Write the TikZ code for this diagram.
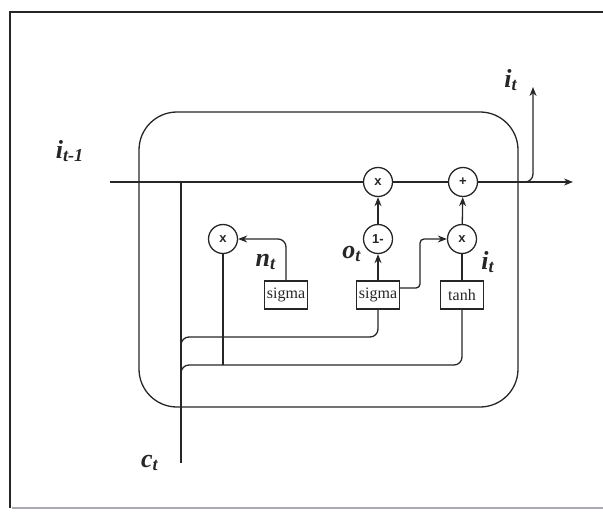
\documentclass[tikz,border=0pt]{standalone}
\usepackage{fontspec}
\setmainfont{Liberation Serif}
\setsansfont{Liberation Sans}
\usetikzlibrary{arrows.meta}
\tikzset{
	op/.style={draw, circle, minimum size=14.5pt, inner sep=0pt, font=\sffamily\bfseries\fontsize{6.5}{7}\selectfont},
	gate/.style={draw, minimum width=21.5pt, minimum height=14pt, inner sep=0.5pt, font=\fontsize{8}{9}\selectfont},
	lbl/.style={inner sep=0pt, font=\fontsize{13}{14}\selectfont\bfseries\itshape},
	flow/.style={-{Stealth[length=4.5pt,width=3.5pt]}},
}
\begin{document}
\begin{tikzpicture}[x=0.5pt, y=-0.5pt, line width=0.65pt, color=black!85]
		\useasboundingbox (0,0) rectangle (603,513);
		% frame
		\draw[line width=0.6pt] (603,12) -- (10,12) -- (10,508);
		\draw[line width=1.2pt, color=blue!15!gray!60] (12,508) -- (603,508);
		% cell
		\draw[rounded corners=19pt] (139,112) rectangle (518,407);
		% operators and gates
		\node[op] (mul1) at (378,182) {x};
		\node[op] (add) at (463,182) {+};
		\node[op] (mul2) at (223,239) {x};
		\node[op] (inv) at (378,239) {1-};
		\node[op] (mul3) at (462,239) {x};
		\node[gate] (sig1) at (286,295) {sigma};
		\node[gate] (sig2) at (378,295) {sigma};
		\node[gate] (tanh) at (462,295) {tanh};
		% free ends
		\coordinate (in) at (110,182);
		\coordinate (out) at (573,182);
		\coordinate (fork) at (524,182);
		\coordinate (top) at (533,87);
		\coordinate (split) at (181,182);
		\coordinate (ct) at (181,463);
		\coordinate (bend) at (420,239);
		\coordinate (b1) at (378,337);
		\coordinate (b2) at (462,365);
		% main line
		\draw[flow] (in) -- (mul1) -- (add) -- (out);
		\draw[flow, rounded corners=4pt] (fork) -| (top);
		\draw (split) -- (ct);
		\draw[rounded corners=4pt] (181,347) |- (b1) -- (sig2.south);
		\draw[rounded corners=4pt] (181,375) |- (b2) -- (tanh.south);
		\draw (mul2) -- (mul2 |- b2);
		% gate outputs
		\draw[flow, rounded corners=4pt] (sig1.north) |- (mul2);
		\draw[flow] (sig2) -- (inv);
		\draw[flow] (inv) -- (mul1);
		\draw[flow, rounded corners=2pt] ([yshift=3.5pt]sig2.east) -| (bend) -- (mul3);
		\draw (tanh) -- (mul3);
		\draw[flow] (mul3) -- (add);
		% labels
		\node[lbl] (lin) at (70,151) {i\textsubscript{t-1}};
		\node[lbl] (lout) at (511,80) {i\textsubscript{t}};
		\node[lbl] (ln) at (266,262) {n\textsubscript{t}};
		\node[lbl] (lo) at (352,254) {o\textsubscript{t}};
		\node[lbl] (li) at (488,262) {i\textsubscript{t}};
		\node[lbl] (lc) at (150,463) {c\textsubscript{t}};
	\end{tikzpicture}
\end{document}
